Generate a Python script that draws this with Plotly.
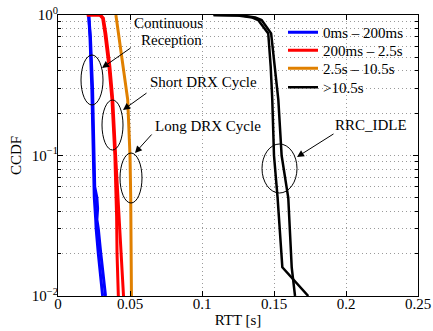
import plotly.graph_objects as go

# ---------------- data ----------------
blue_a_x = [0.0213, 0.0222, 0.0235, 0.0245, 0.0250, 0.0252, 0.0262, 0.0265, 0.0280, 0.0300, 0.0310]
blue_a_y = [1.0, 0.70, 0.30, 0.10, 0.060, 0.050, 0.035, 0.030, 0.020, 0.013, 0.010]
blue_b_x = [0.0213, 0.0225, 0.0240, 0.0248, 0.0255, 0.0270, 0.0275, 0.0270, 0.0280, 0.0295, 0.0310, 0.0330]
blue_b_y = [1.0, 0.70, 0.30, 0.10, 0.060, 0.050, 0.042, 0.035, 0.030, 0.021, 0.015, 0.010]

red_a_x = [0.0200, 0.0290, 0.0310, 0.0326, 0.0354, 0.0375, 0.0395, 0.0400, 0.0407, 0.0410, 0.0419]
red_a_y = [1.0, 1.0, 0.95, 0.74, 0.43, 0.25, 0.10, 0.070, 0.037, 0.020, 0.010]
red_b_x = [0.0200, 0.0295, 0.0315, 0.0332, 0.0360, 0.0380, 0.0400, 0.0412, 0.0420, 0.0435, 0.0455]
red_b_y = [1.0, 1.0, 0.95, 0.74, 0.43, 0.25, 0.10, 0.060, 0.037, 0.020, 0.010]

orange_x = [0.0402, 0.0420, 0.0450, 0.0484, 0.0500, 0.0505, 0.0510]
orange_y = [1.0, 0.74, 0.43, 0.25, 0.10, 0.050, 0.010]

black_a_x = [0.108, 0.125, 0.135, 0.139, 0.146, 0.1477, 0.1488, 0.150, 0.1525, 0.1558, 0.1738]
black_a_y = [1.0, 0.99, 0.96, 0.92, 0.74, 0.43, 0.25, 0.10, 0.050, 0.016, 0.010]
black_b_x = [0.108, 0.128, 0.137, 0.1414, 0.148, 0.1507, 0.153, 0.1553, 0.1599, 0.1623, 0.1646]
black_b_y = [1.0, 0.99, 0.96, 0.92, 0.74, 0.43, 0.25, 0.10, 0.050, 0.016, 0.010]

series_names = ["0ms \u2013 200ms", "200ms \u2013 2.5s", "2.5s \u2013 10.5s", ">10.5s"]

x_tickvals = [0, 0.05, 0.1, 0.15, 0.2, 0.25]
x_ticktext = ["0", "0.05", "0.1", "0.15", "0.2", "0.25"]
y_tickvals = [1, 0.1, 0.01]
y_ticktext = ["10<sup>0</sup>", "10<sup>\u22121</sup>", "10<sup>\u22122</sup>"]
y_minor = [m * 10 ** e for e in (-2, -1) for m in range(2, 10)]

# ---------------- figure ----------------
W, H = 433, 331
L, R, T, B = 58, 15, 15, 35
PW, PH = W - L - R, H - T - B
FONT = "Liberation Serif"


def px(x):
    return (x - L) / PW


def py(y):
    return (H - B - y) / PH


# each series gets its own legend box so the rows can sit 18 px apart
legend_ids = ["legend", "legend2", "legend3", "legend4"]
legend_rows = [31, 49, 67, 86]

fig = go.Figure()
traces = [
    (blue_a_x, blue_a_y, "#0000ff", 0, True, 3),
    (blue_b_x, blue_b_y, "#0000ff", 0, False, 3),
    (red_a_x, red_a_y, "#ff0000", 1, True, 3),
    (red_b_x, red_b_y, "#ff0000", 1, False, 3),
    (orange_x, orange_y, "#e08000", 2, True, 3),
    (black_a_x, black_a_y, "#000000", 3, True, 2.5),
    (black_b_x, black_b_y, "#000000", 3, False, 2.5),
]
for xs, ys, col, k, show, w in traces:
    fig.add_trace(go.Scatter(x=xs, y=ys, mode="lines", name=series_names[k],
                             showlegend=show, legend=legend_ids[k],
                             line=dict(color=col, width=w)))

GRID_DASH = "1px,3px"
GRID_COL = "#9a9a9a"
fig.update_xaxes(range=[0, 0.25], tickvals=x_tickvals, ticktext=x_ticktext, automargin=False,
                 ticks="inside", ticklen=5, tickcolor="black", mirror="ticks",
                 showline=True, linecolor="black", linewidth=1.2, zeroline=False,
                 showgrid=True, gridcolor=GRID_COL, griddash=GRID_DASH, gridwidth=1,
                 ticklabelstandoff=-6,
                 title=dict(text="RTT [s]", standoff=0, font=dict(size=15, family=FONT, color="black")),
                 tickfont=dict(size=15, family=FONT, color="black"))
fig.update_yaxes(type="log", range=[-2, 0], tickvals=y_tickvals, ticktext=y_ticktext, automargin=False,
                 ticks="inside", ticklen=5, tickcolor="black", mirror="ticks",
                 showline=True, linecolor="black", linewidth=1.2, zeroline=False,
                 showgrid=True, gridcolor=GRID_COL, griddash=GRID_DASH, gridwidth=1,
                 ticklabelstandoff=-4,
                 minor=dict(tickvals=y_minor, ticks="inside", ticklen=3, tickcolor="black",
                            showgrid=True, gridcolor=GRID_COL, griddash=GRID_DASH),
                 title=dict(text="CCDF", standoff=6, font=dict(size=15, family=FONT, color="black")),
                 tickfont=dict(size=15, family=FONT, color="black"))

# white panel behind the legend (hides the grid there)
fig.add_shape(type="rect", xref="paper", yref="paper", layer="between",
              x0=px(285), x1=px(398), y0=py(96), y1=py(21),
              line=dict(width=0), fillcolor="white")

# ellipses (pixel boxes converted to paper coords)
ellipses = [(81, 55, 103, 105), (102, 100, 123, 150), (120, 153, 142, 203), (262, 144, 297, 193)]
for x0, y0, x1, y1 in ellipses:
    fig.add_shape(type="circle", xref="paper", yref="paper",
                  x0=px(x0), x1=px(x1), y0=py(y1), y1=py(y0),
                  line=dict(color="black", width=1))

# labels
labels = [("Continuous", 168, 23), ("Reception", 171, 40), ("Short DRX Cycle", 203, 82),
          ("Long DRX Cycle", 208, 126), ("RRC_IDLE", 371, 125)]
for txt, x, y in labels:
    fig.add_annotation(text=txt, xref="paper", yref="paper", x=px(x), y=py(y),
                       xanchor="center", yanchor="middle", showarrow=False,
                       font=dict(size=15, family=FONT, color="black"))

# arrows (tail -> head)
arrows = [((132, 47), (102, 68)), ((148, 92), (123, 110)), ((153, 133), (135, 153)), ((335, 133), (297, 157))]
for (tx, ty), (hx, hy) in arrows:
    fig.add_annotation(text="", xref="paper", yref="paper", x=px(hx), y=py(hy),
                       ax=tx - hx, ay=ty - hy, showarrow=True, arrowhead=2, arrowsize=1.4,
                       arrowwidth=1, arrowcolor="black")

legend_style = dict(xanchor="left", yanchor="top", bgcolor="rgba(0,0,0,0)", borderwidth=0,
                    font=dict(size=15, family=FONT, color="black"))
layout_legends = {}
for lid, row in zip(legend_ids, legend_rows):
    layout_legends[lid] = dict(x=px(283), y=py(row - 15), **legend_style)

fig.update_layout(
    width=W, height=H, margin=dict(l=L, r=R, t=T, b=B, autoexpand=False),
    paper_bgcolor="white", plot_bgcolor="white",
    font=dict(family=FONT, size=15, color="black"),
    **layout_legends,
)

fig.write_html("out.html", config={"displayModeBar": False},
               post_script="document.body.style.margin='0';")
